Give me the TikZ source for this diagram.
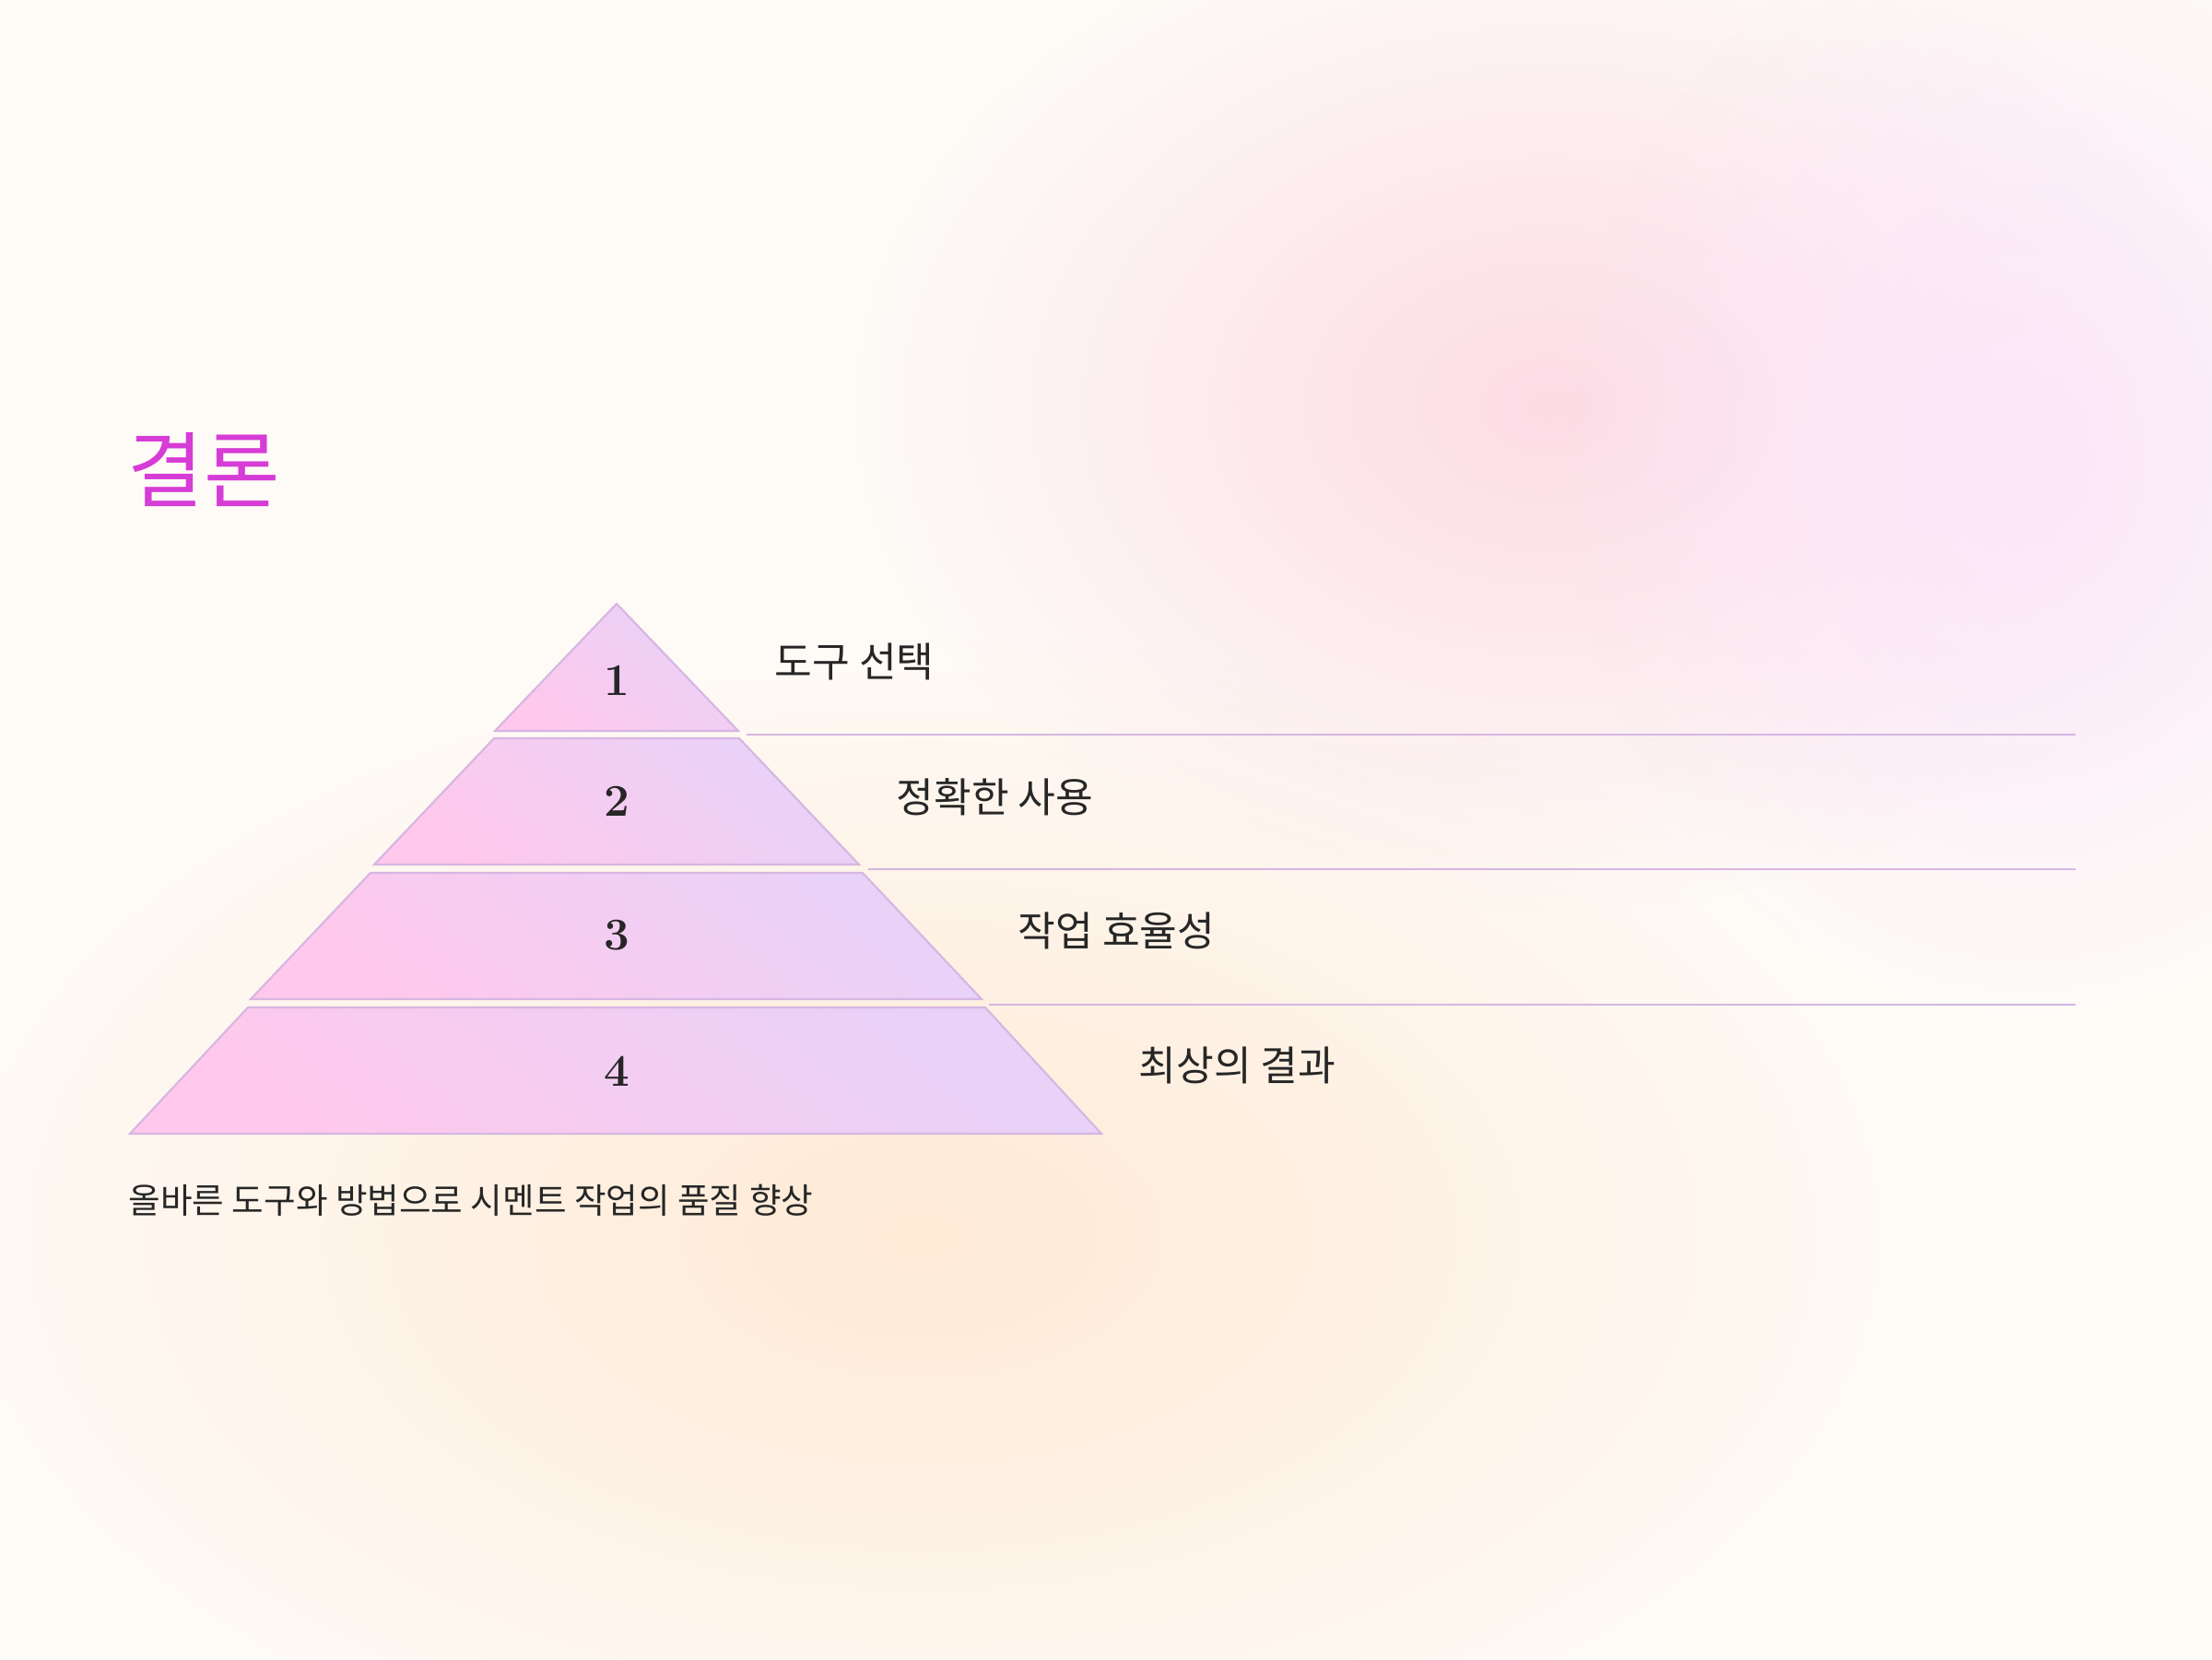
\documentclass[tikz,border=0pt]{standalone}
\usepackage{fontspec}
\newfontfamily\kr{Noto Sans CJK KR}
\usetikzlibrary{fadings}

\definecolor{bgcream}{HTML}{FEFBF7}
\definecolor{blobpink}{HTML}{FDDCE6}
\definecolor{bloblav}{HTML}{FBE6FA}
\definecolor{blobpeach}{HTML}{FFEAD5}
\definecolor{layerpink}{HTML}{FFC8EC}
\definecolor{layerlav}{HTML}{E8D2F8}
\definecolor{layeredge}{HTML}{D6B6E2}
\definecolor{titlemag}{RGB}{214,60,214}
\definecolor{textdark}{HTML}{262626}

\tikzfading[name=blobfade, inner color=transparent!0, outer color=transparent!100]

\tikzset{
    blob/.style = {path fading=blobfade},
    layer/.style = {draw=layeredge, line width=0.6pt, bottom color=layerpink, top color=layerlav, shading angle=-40},
    num/.style = {font=\fontsize{14}{16}\selectfont\bfseries, text=textdark},
    steptext/.style = {anchor=west, font=\kr\fontsize{12.6}{15}\selectfont, text=textdark, inner sep=0pt},
    sep/.style = {draw=layeredge, line width=0.6pt}
}

\begin{document}
\begin{tikzpicture}
\useasboundingbox (0,0) rectangle (24,18);
% background
\fill[bgcream] (0,0) rectangle (24,18);
\fill[blobpeach, blob] (10,4.6) ellipse (11 and 6.5);
\fill[blobpink, blob] (16.8,13.6) ellipse (7.5 and 5.5);
\fill[bloblav, blob] (22,13) ellipse (5 and 6);

% title
\node (title) [anchor=west, font=\kr\fontsize{25.5}{30}\selectfont, text=titlemag, inner sep=0pt] at (1.38,12.90) {결론};

% pyramid
\shade[layer] (6.69,11.45) -- (8.01,10.07) -- (5.37,10.07) -- cycle;
\shade[layer] (5.36,9.99) -- (8.02,9.99) -- (9.32,8.62) -- (4.06,8.62) -- cycle;
\shade[layer] (4.02,8.53) -- (9.36,8.53) -- (10.65,7.16) -- (2.72,7.16) -- cycle;
\shade[layer] (2.69,7.07) -- (10.69,7.07) -- (11.95,5.70) -- (1.41,5.70) -- cycle;

\node (n1) [num] at (6.69,10.62) {1};
\node (n2) [num] at (6.69,9.31) {2};
\node (n3) [num] at (6.69,7.85) {3};
\node (n4) [num] at (6.69,6.38) {4};

% separators
\coordinate (s1a) at (8.10,10.03);  \coordinate (s1b) at (22.52,10.03);
\coordinate (s2a) at (9.42,8.57);   \coordinate (s2b) at (22.52,8.57);
\coordinate (s3a) at (10.73,7.10);  \coordinate (s3b) at (22.52,7.10);
\draw [sep] (s1a) -- (s1b);
\draw [sep] (s2a) -- (s2b);
\draw [sep] (s3a) -- (s3b);

% step labels
\node (t1) [steptext] at (8.40,10.82) {도구 선택};
\node (t2) [steptext] at (9.72,9.35) {정확한 사용};
\node (t3) [steptext] at (11.04,7.90) {작업 효율성};
\node (t4) [steptext] at (12.35,6.44) {최상의 결과};

% summary
\node (summary) [anchor=west, font=\kr\fontsize{10.7}{13}\selectfont, text=textdark, inner sep=0pt] at (1.39,4.98) {올바른 도구와 방법으로 시멘트 작업의 품질 향상};
\end{tikzpicture}
\end{document}
